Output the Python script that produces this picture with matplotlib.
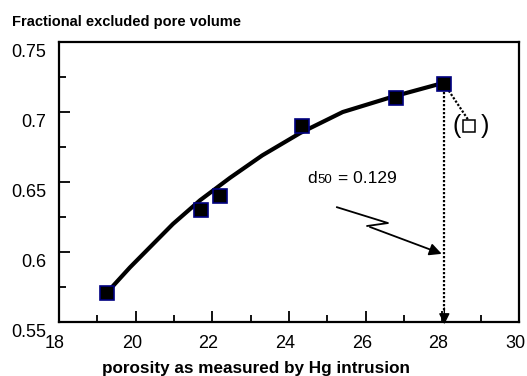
import matplotlib.pyplot as plt
from matplotlib.ticker import MultipleLocator
from matplotlib.transforms import ScaledTranslation

plt.rcParams['font.family'] = ['Liberation Sans', 'DejaVu Sans']

# measured points
porosity = [19.25, 21.7, 22.2, 24.35, 26.8, 28.05]
excluded = [0.571, 0.630, 0.640, 0.690, 0.710, 0.720]

# fitted curve
fit_x = [19.25, 19.85, 20.5, 20.97, 21.68, 22.46, 23.3, 24.29, 25.4, 26.71, 28.05]
fit_y = [0.571, 0.589, 0.607, 0.620, 0.637, 0.653, 0.669, 0.685, 0.700, 0.711, 0.721]

# open-square point and zigzag pointer
open_x, open_y = 28.70, 0.690
zig_x = [25.25, 26.58, 26.04]
zig_y = [0.632, 0.6207, 0.6186]
arrow_tip = (28.05, 0.598)

fig = plt.figure(figsize=(5.27, 3.76), dpi=100)
ax = fig.add_axes([0.112, 0.1436, 0.873, 0.7446])

ax.plot(fit_x, fit_y, color='black', lw=3, solid_capstyle='round', solid_joinstyle='round', zorder=3)
ax.plot(porosity, excluded, ls='none', marker='s', ms=9.5, mfc='black',
        mec='#000080', mew=1.2, zorder=4)

# dotted drop line from the last point to the axis
ax.plot([porosity[-1], porosity[-1]], [excluded[-1], 0.558], ls=(0, (1, 0.8)), color='black', lw=1.6)
ax.annotate('', xy=(porosity[-1], 0.5464), xytext=(porosity[-1], 0.562),
            arrowprops=dict(arrowstyle='-|>', color='black', lw=1, mutation_scale=16),
            annotation_clip=False)

# dotted link to the open square
ax.plot([porosity[-1], open_x - 0.01], [excluded[-1], open_y + 0.0037], ls=(0, (1, 0.8)),
        color='black', lw=1.6)
ax.plot([open_x], [open_y], ls='none', marker='s', ms=8, mfc='white', mec='black', mew=1.1, zorder=5)
ax.text(open_x - 0.34, open_y, '(', fontsize=18, ha='center', va='center')
ax.text(open_x + 0.40, open_y, ')', fontsize=18, ha='center', va='center')

# d50 label and zigzag arrow
d_x, d_y = 24.47, 0.649
ax.annotate('d', (d_x, d_y), xytext=(0, 0), textcoords='offset points', fontsize=12.5, va='baseline')
ax.annotate('50', (d_x, d_y), xytext=(7.3, 0), textcoords='offset points', fontsize=9.5, va='baseline')
ax.annotate('= 0.129', (d_x, d_y), xytext=(22.3, 0), textcoords='offset points', fontsize=12.5,
            va='baseline')
ax.plot(zig_x, zig_y, color='black', lw=1.3)
ax.annotate('', xy=arrow_tip, xytext=(zig_x[-1], zig_y[-1]),
            arrowprops=dict(arrowstyle='-|>', color='black', lw=1.3, mutation_scale=18))

ax.set_xlim(18, 30)
ax.set_ylim(0.55, 0.75)
ax.xaxis.set_major_locator(MultipleLocator(2))
ax.xaxis.set_minor_locator(MultipleLocator(1))
ax.yaxis.set_minor_locator(MultipleLocator(0.025))
ax.set_yticks([0.55, 0.6, 0.65, 0.7, 0.75])
ax.set_yticklabels(['0.55', '0.6', '0.65', '0.7', '0.75'])
ax.tick_params(which='both', direction='in', top=False, right=False, labelsize=13)
ax.tick_params(which='major', length=8, width=1.3)
ax.tick_params(which='minor', length=5, width=1.3)
ax.tick_params(axis='y', pad=9)
ax.tick_params(axis='x', pad=9)
yshift = ScaledTranslation(0, -8 / 100, fig.dpi_scale_trans)
for lab in ax.get_yticklabels():
    lab.set_transform(lab.get_transform() + yshift)
xshift = ScaledTranslation(-4 / 100, 0, fig.dpi_scale_trans)
for lab in ax.get_xticklabels():
    lab.set_transform(lab.get_transform() + xshift)
for s in ax.spines.values():
    s.set_linewidth(1.6)

fig.text(256 / 527, 1 - 369 / 376, 'porosity as measured by Hg intrusion', fontsize=12.3,
         fontweight='bold', ha='center', va='center')
fig.text(0.022, 0.941, 'Fractional excluded pore volume', fontsize=10.5, fontweight='bold',
         ha='left', va='center')

fig.savefig('out.png', dpi=100)
